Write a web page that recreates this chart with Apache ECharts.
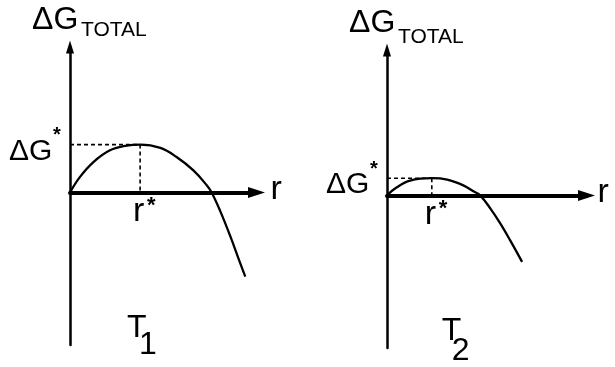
<!DOCTYPE html>
<html>
<head>
<meta charset="utf-8">
<title>Free energy of a nucleus vs radius</title>
<script src="https://cdn.jsdelivr.net/npm/echarts@6.0.0/dist/echarts.min.js"></script>
<style>
  html, body { margin: 0; padding: 0; background: #fff; }
  #chart { width: 615px; height: 367px; }
</style>
</head>
<body>
<div id="chart"></div>
<script>
// curves: r in units of r*(T1), dG in units of dG*(T1)
var rT1 = [0, 0.14, 0.33, 0.57, 0.81, 1.0, 1.29, 1.52, 1.76, 1.95, 2.02, 2.14, 2.29, 2.43, 2.5];
var gT1 = [0, 0.32, 0.63, 0.88, 0.98, 1.0, 0.93, 0.74, 0.46, 0.15, 0, -0.38, -0.93, -1.49, -1.76];
var rT2 = [0, 0.14, 0.33, 0.64, 0.86, 1.09, 1.24, 1.33, 1.48, 1.62, 1.76, 1.93];
var gT2 = [0, 0.17, 0.31, 0.36, 0.33, 0.21, 0.08, 0, -0.28, -0.59, -0.94, -1.39];
var peakT1 = [1.0, 1.0];   // (r*, dG*) at T1
var peakT2 = [0.64, 0.36]; // (r*, dG*) at T2
var rMax = [2.66, 2.85];
var gMin = -3.19, gMax = 3.04;
var panelNames = ['1', '2'];

var FONT = '"Liberation Sans", Arial, sans-serif';

function zip(xs, ys) {
    return xs.map(function (x, i) { return [x, ys[i]]; });
}

function xAxisFor(idx) {
    return {
        type: 'value', gridIndex: idx, min: 0, max: rMax[idx],
        axisLine: { onZero: true, symbol: ['none', 'triangle'], symbolSize: [11, 17],
            lineStyle: { color: '#000', width: 4 } },
        axisTick: { show: false }, axisLabel: { show: false }, splitLine: { show: false }
    };
}

function yAxisFor(idx) {
    return {
        type: 'value', gridIndex: idx, min: gMin, max: gMax,
        axisLine: { onZero: true, symbol: ['none', 'triangle'], symbolSize: [8, 13],
            lineStyle: { color: '#000', width: 2.5 } },
        axisTick: { show: false }, axisLabel: { show: false }, splitLine: { show: false }
    };
}

function curve(idx, rs, gs) {
    return {
        type: 'line', xAxisIndex: idx, yAxisIndex: idx, data: zip(rs, gs),
        smooth: 0.4, symbol: 'none', z: 5,
        lineStyle: { color: '#000', width: 2.3 }
    };
}

function dashed(idx, pts) {
    return {
        type: 'line', xAxisIndex: idx, yAxisIndex: idx, data: pts,
        symbol: 'none', z: 4,
        lineStyle: { color: '#000', width: 1.6, type: [4, 3] }
    };
}

var chart = echarts.init(document.getElementById('chart'));

var option = {
    animation: false,
    backgroundColor: '#fff',
    grid: [
        { left: 70, top: 47, width: 186.5, height: 298 },
        { left: 387, top: 50, width: 199.5, height: 298 }
    ],
    xAxis: [xAxisFor(0), xAxisFor(1)],
    yAxis: [yAxisFor(0), yAxisFor(1)],
    series: [
        curve(0, rT1, gT1),
        dashed(0, [[0, peakT1[1]], peakT1]),
        dashed(0, [peakT1, [peakT1[0], 0]]),
        curve(1, rT2, gT2),
        dashed(1, [[0, peakT2[1]], peakT2]),
        dashed(1, [peakT2, [peakT2[0], 0]])
    ]
};

chart.setOption(option);

function txt(str, x, y, size, weight) {
    return {
        type: 'text', x: x, y: y, silent: true,
        style: {
            text: str, fill: '#000', font: (weight || 'normal') + ' ' + size + 'px ' + FONT,
            align: 'left', verticalAlign: 'middle',
            textAlign: 'left', textVerticalAlign: 'middle'
        }
    };
}

// labels placed relative to the axes and peaks
var graphics = [];
[peakT1, peakT2].forEach(function (peak, g) {
    var o = chart.convertToPixel({ gridIndex: g }, [0, 0]);
    var p = chart.convertToPixel({ gridIndex: g }, peak);
    var top = chart.convertToPixel({ gridIndex: g }, [0, gMax]);
    var end = chart.convertToPixel({ gridIndex: g }, [rMax[g], 0]);
    var bottom = chart.convertToPixel({ gridIndex: g }, [0, gMin]);
    // axis title
    graphics.push(txt('\u0394G', o[0] - 38, top[1] - 27, 32));
    graphics.push(txt('TOTAL', o[0] + 11, top[1] - 17 + g * 4, 21));
    // dG* label
    graphics.push(txt('\u0394G', o[0] - 61, p[1] + 7, 30));
    graphics.push(txt('*', o[0] - 17, p[1] - 9, 20, 'bold'));
    // r axis name
    graphics.push(txt('r', end[0] + (g === 0 ? 14 : 11), o[1] - 3, 34));
    // r* label
    graphics.push(txt('r', p[0] - 7, o[1] + 19, 34));
    graphics.push(txt('*', p[0] + 7, o[1] + 14, 22, 'bold'));
    // temperature
    graphics.push(txt('T', p[0] - 13 + g * 23, bottom[1] - 17, 32));
    graphics.push(txt(panelNames[g], p[0] - 1 + g * 21, bottom[1] + g * 3, 32));
});

chart.setOption({ graphic: graphics });
</script>
</body>
</html>
